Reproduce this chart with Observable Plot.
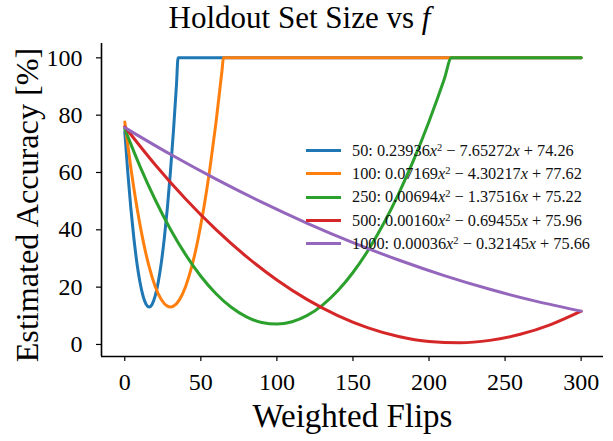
<!DOCTYPE html>
<html>
<head>
<meta charset="utf-8">
<script src="https://cdn.jsdelivr.net/npm/d3@7"></script>
<script src="https://cdn.jsdelivr.net/npm/@observablehq/plot@0.6"></script>
<style>
  body { margin: 0; background: #fff; }
  #wrap { position: relative; width: 613px; height: 441px; font-family: "Liberation Serif", serif; overflow: hidden; }
  #title { position: absolute; left: -7px; width: 613px; top: -1px; text-align: center; font-size: 31px; line-height: 38px; color: #000; }
  #chart { position: absolute; left: 0; top: 40px; }
  #ylabel { position: absolute; left: 27px; top: 205px; transform: translate(-50%, -50%) rotate(-90deg); font-size: 32.2px; white-space: nowrap; color: #000; line-height: 34px; }
  #legend { position: absolute; left: 306px; top: 139px; font-size: 16.3px; color: #111; }
  #legend .row { height: 23.3px; display: flex; align-items: center; white-space: nowrap; }
  #legend .sw { width: 35px; height: 3px; margin-right: 11px; }
  #legend sup { font-size: 10.5px; vertical-align: 5px; line-height: 0; }
</style>
</head>
<body>
<div id="wrap">
  <div id="title">Holdout Set Size vs <i>f</i></div>
  <div id="chart"></div>
  <div id="ylabel">Estimated Accuracy [%]</div>
  <div id="legend"></div>
</div>
<script>
// Series labels and legend coefficients (as printed in the legend)
const sizes = ["50", "100", "250", "500", "1000"];
const coefA = ["0.23936", "0.07169", "0.00694", "0.00160", "0.00036"];
const coefB = ["7.65272", "4.30217", "1.37516", "0.69455", "0.32145"];
const coefC = ["74.26", "77.62", "75.22", "75.96", "75.66"];
const colors = ["#1f77b4", "#ff7f0e", "#2ca02c", "#d62728", "#9467bd"];

// Points for each series
const x50 = [0, 2, 4, 6, 8, 10, 12, 14, 16, 18, 20, 22, 24, 26, 28, 30, 32, 34, 35.04, 300];
const y50 = [74.26, 59.91, 47.48, 36.96, 28.36, 21.67, 16.90, 14.04, 13.09, 14.06, 16.95, 21.75, 28.47, 37.10, 47.64, 60.10, 74.48, 90.77, 100, 100];

const x100 = [0, 4, 8, 12, 16, 20, 24, 28, 30, 32, 36, 40, 44, 48, 52, 56, 60, 64, 64.83, 300];
const y100 = [77.62, 61.56, 47.79, 36.32, 27.14, 20.25, 15.66, 13.36, 13.08, 13.36, 15.65, 20.24, 27.12, 36.29, 47.76, 61.52, 77.57, 95.92, 100, 100];

const x250 = [0, 10, 20, 30, 40, 50, 60, 70, 80, 90, 100, 110, 120, 130, 140, 150, 160, 170, 180, 190, 200, 210, 214.77, 300];
const y250 = [75.22, 62.16, 50.49, 40.21, 31.32, 23.81, 17.69, 12.97, 9.62, 7.67, 7.10, 7.93, 10.14, 13.74, 18.72, 25.10, 32.86, 42.01, 52.55, 64.47, 77.79, 92.49, 100, 100];

const x500 = [0, 20, 40, 60, 80, 100, 120, 140, 160, 180, 200, 220, 240, 260, 280, 300];
const y500 = [75.96, 62.71, 50.74, 40.05, 30.64, 22.51, 15.65, 10.08, 5.79, 2.78, 1.05, 0.60, 1.43, 3.54, 6.93, 11.60];

const x1000 = [0, 30, 60, 90, 120, 150, 180, 210, 240, 270, 300];
const y1000 = [75.66, 66.34, 57.67, 49.65, 42.27, 35.54, 29.46, 24.03, 19.25, 15.11, 11.63];

const xTicks = [0, 50, 100, 150, 200, 250, 300];
const yTicks = [0, 20, 40, 60, 80, 100];

const seriesX = [x50, x100, x250, x500, x1000];
const seriesY = [y50, y100, y250, y500, y1000];
const rows = [];
seriesX.forEach((xs, i) => xs.forEach((x, j) => rows.push({s: sizes[i], x, y: seriesY[i][j]})));

const xDom = [-15.3, 314.7];
const yDom = [-4.2, 105];
const font = "Liberation Serif";

const chart = Plot.plot({
  width: 613,
  height: 401,
  marginLeft: 101,
  marginRight: 10,
  marginTop: 3,
  marginBottom: 85,
  style: {fontFamily: font, fontSize: "24px", background: "#fff", color: "#000", overflow: "visible"},
  x: {domain: xDom},
  y: {domain: yDom},
  color: {domain: sizes, range: colors},
  marks: [
    Plot.ruleX([xDom[0]], {stroke: "#000", strokeWidth: 1.6}),
    Plot.ruleY([yDom[0]], {stroke: "#000", strokeWidth: 1.6}),
    Plot.axisX({ticks: xTicks, tickSize: 5, tickPadding: 11, label: null, stroke: "#000", strokeWidth: 1.2}),
    Plot.axisY({ticks: yTicks, tickSize: 5, tickPadding: 14, label: null, stroke: "#000", strokeWidth: 1.2}),
    Plot.line(rows, {x: "x", y: "y", z: "s", stroke: "s", strokeWidth: 3, curve: "monotone-x"}),
    Plot.text(["Weighted Flips"], {frameAnchor: "bottom", dy: 70, fontSize: 33, fill: "#000"})
  ]
});
document.getElementById("chart").appendChild(chart);

const legend = document.getElementById("legend");
sizes.forEach((s, i) => {
  const row = document.createElement("div");
  row.className = "row";
  row.innerHTML = `<span class="sw" style="background:${colors[i]}"></span><span>${s}: ${coefA[i]}<i>x</i><sup>2</sup> &minus; ${coefB[i]}<i>x</i> + ${coefC[i]}</span>`;
  legend.appendChild(row);
});
</script>
</body>
</html>
